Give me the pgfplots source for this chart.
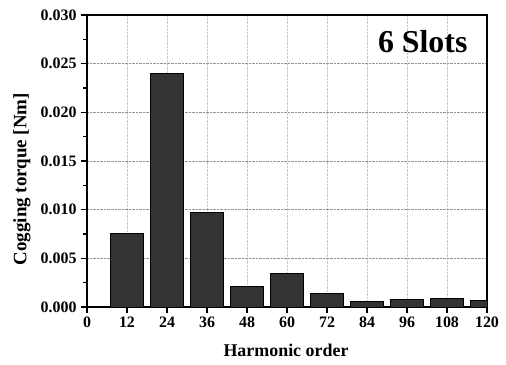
\documentclass[border=0pt]{standalone}
\usepackage{fontspec}
\setmainfont{Liberation Serif}
\usepackage{pgfplots}
\pgfplotsset{compat=1.18}
\begin{document}
\begin{tikzpicture}
\useasboundingbox (-87bp,-58bp) rectangle (419bp,307bp);
\begin{axis}[
  at={(0,0)}, anchor=south west,
  scale only axis,
  width=400bp, height=292bp,
  xmin=0, xmax=120, ymin=0, ymax=0.03,
  xtick={0,12,...,120},
  ytick={0,0.005,0.01,0.015,0.02,0.025,0.03},
  minor y tick num=1,
  xtick pos=bottom, ytick pos=left,
  tick align=outside,
  major tick length=6bp, minor tick length=3.5bp,
  every tick/.style={black, line width=1.1pt},
  axis line style={black, line width=1.3pt},
  /pgf/number format/assume math mode=true,
  yticklabel style={/pgf/number format/fixed, /pgf/number format/fixed zerofill, /pgf/number format/precision=3, xshift=-1bp},
  scaled y ticks=false,
  tick label style={font=\fontsize{16}{18}\selectfont\bfseries},
  xlabel={Harmonic order},
  ylabel={Cogging torque [Nm]},
  xlabel style={font=\fontsize{18}{20}\selectfont\bfseries, at={(axis description cs:0.4975,-0.171)}, anchor=base},
  ylabel style={font=\fontsize{19}{21}\selectfont\bfseries, at={(axis description cs:-0.1625,0.438)}, anchor=center, rotate=0},
  grid=major,
  x grid style={gray!45, densely dotted, line width=0.6pt},
  y grid style={gray!85, densely dotted, line width=0.6pt},
  ybar, bar width=10,
]
\addplot[fill=black!80, draw=black, line width=1pt] coordinates {
 (12,0.00757) (24,0.0240) (36,0.00973) (48,0.00209) (60,0.00346)
 (72,0.00137) (84,0.00058) (96,0.00079) (108,0.00086) (120,0.00065)
};
\node[anchor=base east, font=\fontsize{32}{34}\selectfont\bfseries] at (rel axis cs:0.96,0.873) {6 Slots};
\end{axis}
\end{tikzpicture}
\end{document}
